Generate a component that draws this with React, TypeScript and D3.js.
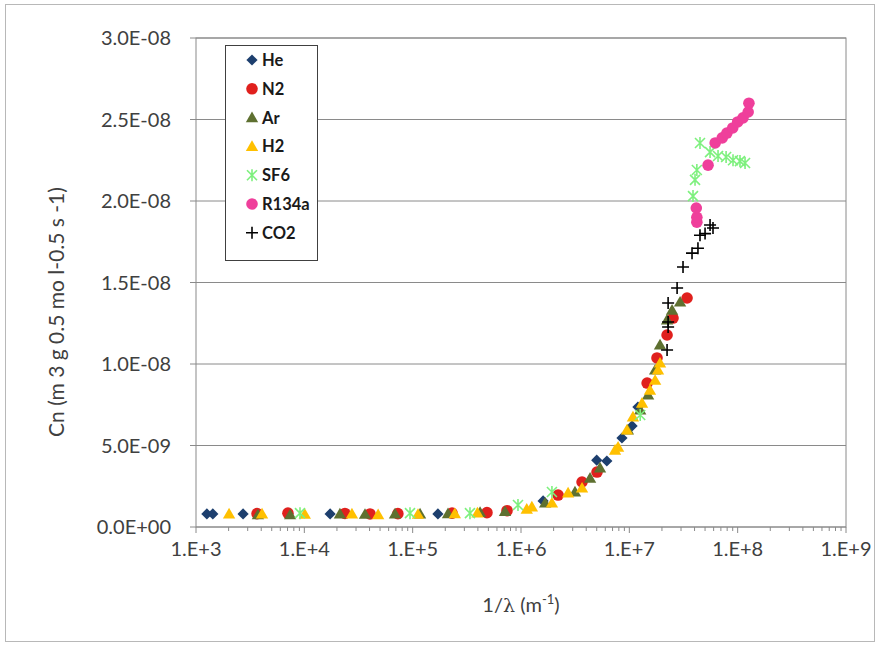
import React from 'react';
import * as d3 from 'd3';

// series: [1/lambda (m-1), Cn]
const he = [[1.26e3, 8.0e-10], [1.43e3, 8.0e-10], [2.72e3, 8.0e-10], [1.73e4, 8.0e-10], [1.71e5, 8.0e-10], [1.6e6, 1.6e-9], [5.0e6, 4.1e-9], [6.2e6, 4.05e-9], [8.55e6, 5.46e-9], [1.06e7, 6.2e-9], [1.2e7, 7.36e-9]];
const n2 = [[3.66e3, 8.2e-10], [7.06e3, 8.5e-10], [2.37e4, 8.3e-10], [4.04e4, 8.0e-10], [7.3e4, 8.2e-10], [2.31e5, 8.5e-10], [4.85e5, 8.8e-10], [7.43e5, 1.0e-9], [2.2e6, 1.96e-9], [3.66e6, 2.76e-9], [5.03e6, 3.37e-9], [1.46e7, 8.83e-9], [1.8e7, 1.037e-8], [2.23e7, 1.178e-8], [2.53e7, 1.282e-8], [3.41e7, 1.405e-8]];
const ar = [[3.73e3, 7.5e-10], [7.4e3, 7.5e-10], [2.13e4, 8.0e-10], [3.63e4, 7.8e-10], [6.87e4, 8.0e-10], [1.17e5, 8.0e-10], [2.12e5, 8.2e-10], [4.19e5, 9.0e-10], [7.12e5, 9.5e-10], [1.67e6, 1.47e-9], [3.15e6, 2.15e-9], [4.34e6, 3.0e-9], [5.36e6, 3.62e-9], [9.7e6, 5.95e-9], [1.26e7, 7.18e-9], [1.49e7, 8.1e-9], [1.73e7, 9.63e-9], [1.92e7, 1.117e-8], [2.23e7, 1.27e-8], [2.48e7, 1.33e-8], [2.94e7, 1.38e-8]];
const h2 = [[2.02e3, 8.0e-10], [4.07e3, 8.0e-10], [1.01e4, 7.8e-10], [2.75e4, 8.0e-10], [4.8e4, 7.6e-10], [1.12e5, 7.8e-10], [2.45e5, 8.2e-10], [3.96e5, 8.6e-10], [1.13e6, 1.1e-9], [1.26e6, 1.23e-9], [1.93e6, 1.47e-9], [2.72e6, 2.09e-9], [3.66e6, 2.39e-9], [7.38e6, 4.72e-9], [7.87e6, 4.9e-9], [9.5e6, 5.95e-9], [1.08e7, 6.75e-9], [1.31e7, 7.6e-9], [1.55e7, 8.4e-9], [1.73e7, 9.0e-9], [1.84e7, 9.63e-9], [1.92e7, 1.006e-8]];
const sf6 = [[9.12e3, 8.5e-10], [9.45e4, 8.5e-10], [3.38e5, 8.5e-10], [9.38e5, 1.35e-9], [1.93e6, 2.15e-9], [1.26e7, 6.87e-9], [3.87e7, 2.03e-8], [4.04e7, 2.13e-8], [4.2e7, 2.19e-8], [4.49e7, 2.356e-8], [5.56e7, 2.3e-8], [6.59e7, 2.276e-8], [7.82e7, 2.27e-8], [9.06e7, 2.25e-8], [1.05e8, 2.245e-8], [1.17e8, 2.233e-8]];
const r134a = [[4.2e7, 1.87e-8], [4.2e7, 1.9e-8], [4.15e7, 1.957e-8], [5.33e7, 2.22e-8], [6.2e7, 2.356e-8], [7.2e7, 2.387e-8], [7.95e7, 2.417e-8], [9.0e7, 2.448e-8], [1.0e8, 2.485e-8], [1.12e8, 2.51e-8], [1.25e8, 2.546e-8], [1.27e8, 2.6e-8]];
const co2 = [[2.23e7, 1.086e-8], [2.28e7, 1.227e-8], [2.28e7, 1.258e-8], [2.28e7, 1.374e-8], [2.76e7, 1.466e-8], [3.13e7, 1.595e-8], [3.79e7, 1.68e-8], [4.3e7, 1.71e-8], [4.49e7, 1.79e-8], [5.0e7, 1.8e-8], [5.56e7, 1.853e-8], [5.92e7, 1.834e-8]];

const xTicks = [1e3, 1e4, 1e5, 1e6, 1e7, 1e8, 1e9];
const xTickLabels = ['1.E+3', '1.E+4', '1.E+5', '1.E+6', '1.E+7', '1.E+8', '1.E+9'];
const yTicks = [0, 5e-9, 1e-8, 1.5e-8, 2e-8, 2.5e-8, 3e-8];
const yTickLabels = ['0.0E+00', '5.0E-09', '1.0E-08', '1.5E-08', '2.0E-08', '2.5E-08', '3.0E-08'];

const series = [
  { name: 'He', data: he, shape: 'diamond', color: '#1d3f6e' },
  { name: 'N2', data: n2, shape: 'circle', color: '#e0201d' },
  { name: 'Ar', data: ar, shape: 'triangle', color: '#5e7030' },
  { name: 'H2', data: h2, shape: 'triangle', color: '#ffc000' },
  { name: 'SF6', data: sf6, shape: 'star', color: '#7ef07e' },
  { name: 'R134a', data: r134a, shape: 'circle', color: '#ef3f9b' },
  { name: 'CO2', data: co2, shape: 'plus', color: '#000000' },
];

const W = 880, H = 647;
const x = d3.scaleLog().domain([1e3, 1e9]).range([196, 846]);
const y = d3.scaleLinear().domain([0, 3e-8]).range([527, 38]);
const font = 'Lato, "Open Sans", sans-serif';

const Marker = ({ shape, color, cx, cy }) => {
  const t = `translate(${cx},${cy})`;
  if (shape === 'diamond') {
    return <path transform={t} d={d3.symbol(d3.symbolDiamond2, 80)()} fill={color} />;
  }
  if (shape === 'circle') {
    return <circle cx={cx} cy={cy} r={5.8} fill={color} />;
  }
  if (shape === 'triangle') {
    return <path transform={`${t} translate(0,1)`} d={d3.symbol(d3.symbolTriangle, 66)()} fill={color} />;
  }
  if (shape === 'star') {
    const s = 5;
    return (
      <path transform={t} d={`M${-s},${-s}L${s},${s}M${-s},${s}L${s},${-s}M0,${-s - 1}L0,${s + 1}`}
        stroke={color} strokeWidth={1.6} fill="none" />
    );
  }
  const s = 6;
  return <path transform={t} d={`M${-s},0L${s},0M0,${-s}L0,${s}`} stroke={color} strokeWidth={1.6} fill="none" />;
};

export default function App() {
  const minor = [];
  for (let d = 3; d < 9; d++) {
    for (let k = 2; k <= 9; k++) minor.push(k * Math.pow(10, d));
  }
  const [x0, x1] = x.range();
  const [y0, y1] = y.range();

  return (
    <div style={{ position: 'absolute', left: 0, top: 0 }}>
      <svg width={W} height={H} style={{ display: 'block', background: '#fff' }}>
        <rect x={5.5} y={4.5} width={869} height={637} fill="#fff" stroke="#b8b8b8" />

        {/* grid */}
        {yTicks.map((v, i) => (
          <line key={'g' + i} x1={x0} x2={x1} y1={y(v)} y2={y(v)} stroke="#8a8a8a" strokeWidth={1} />
        ))}
        <rect x={x0} y={y1} width={x1 - x0} height={y0 - y1} fill="none" stroke="#8a8a8a" />

        {/* y axis */}
        {yTicks.map((v, i) => (
          <g key={'y' + i}>
            <line x1={x0 - 6} x2={x0} y1={y(v)} y2={y(v)} stroke="#8a8a8a" />
            <text x={171} y={y(v)} dy="0.36em" textAnchor="end" fontFamily={font} fontSize={20} fill="#404040">
              {yTickLabels[i]}
            </text>
          </g>
        ))}

        {/* x axis */}
        {minor.map((v, i) => (
          <line key={'m' + i} x1={x(v)} x2={x(v)} y1={y0} y2={y0 + 4} stroke="#8a8a8a" />
        ))}
        {xTicks.map((v, i) => (
          <g key={'x' + i}>
            <line x1={x(v)} x2={x(v)} y1={y0} y2={y0 + 6} stroke="#8a8a8a" />
            <text x={x(v)} y={556} textAnchor="middle" fontFamily={font} fontSize={20} fill="#404040">
              {xTickLabels[i]}
            </text>
          </g>
        ))}

        <text x={521} y={612} textAnchor="middle" fontFamily={font} fontSize={20} fill="#404040">
          1/<tspan fontFamily="'DejaVu Serif', serif" fontSize={19}>λ</tspan> (m
          <tspan fontSize={13} dy={-8}>-1</tspan>
          <tspan dy={8}>)</tspan>
        </text>
        <text transform="translate(64,312) rotate(-90)" textAnchor="middle" fontFamily={font} fontSize={21} fill="#404040">
          Cn (m 3 g 0.5  mo l-0.5 s -1)
        </text>

        {/* points */}
        {series.map(s => (
          <g key={s.name}>
            {s.data.map((p, i) => (
              <Marker key={i} shape={s.shape} color={s.color} cx={x(p[0])} cy={y(p[1])} />
            ))}
          </g>
        ))}

        {/* legend */}
        <rect x={225.5} y={45.5} width={92} height={215} fill="#fff" stroke="#404040" />
        {series.map((s, i) => (
          <g key={'l' + s.name}>
            <Marker shape={s.shape} color={s.color} cx={252} cy={60 + i * 28.8} />
            <text x={262} y={60 + i * 28.8} dy="0.36em" fontFamily={font} fontSize={16.5} fontWeight="bold" fill="#1a1a1a">
              {s.name}
            </text>
          </g>
        ))}
      </svg>
    </div>
  );
}
